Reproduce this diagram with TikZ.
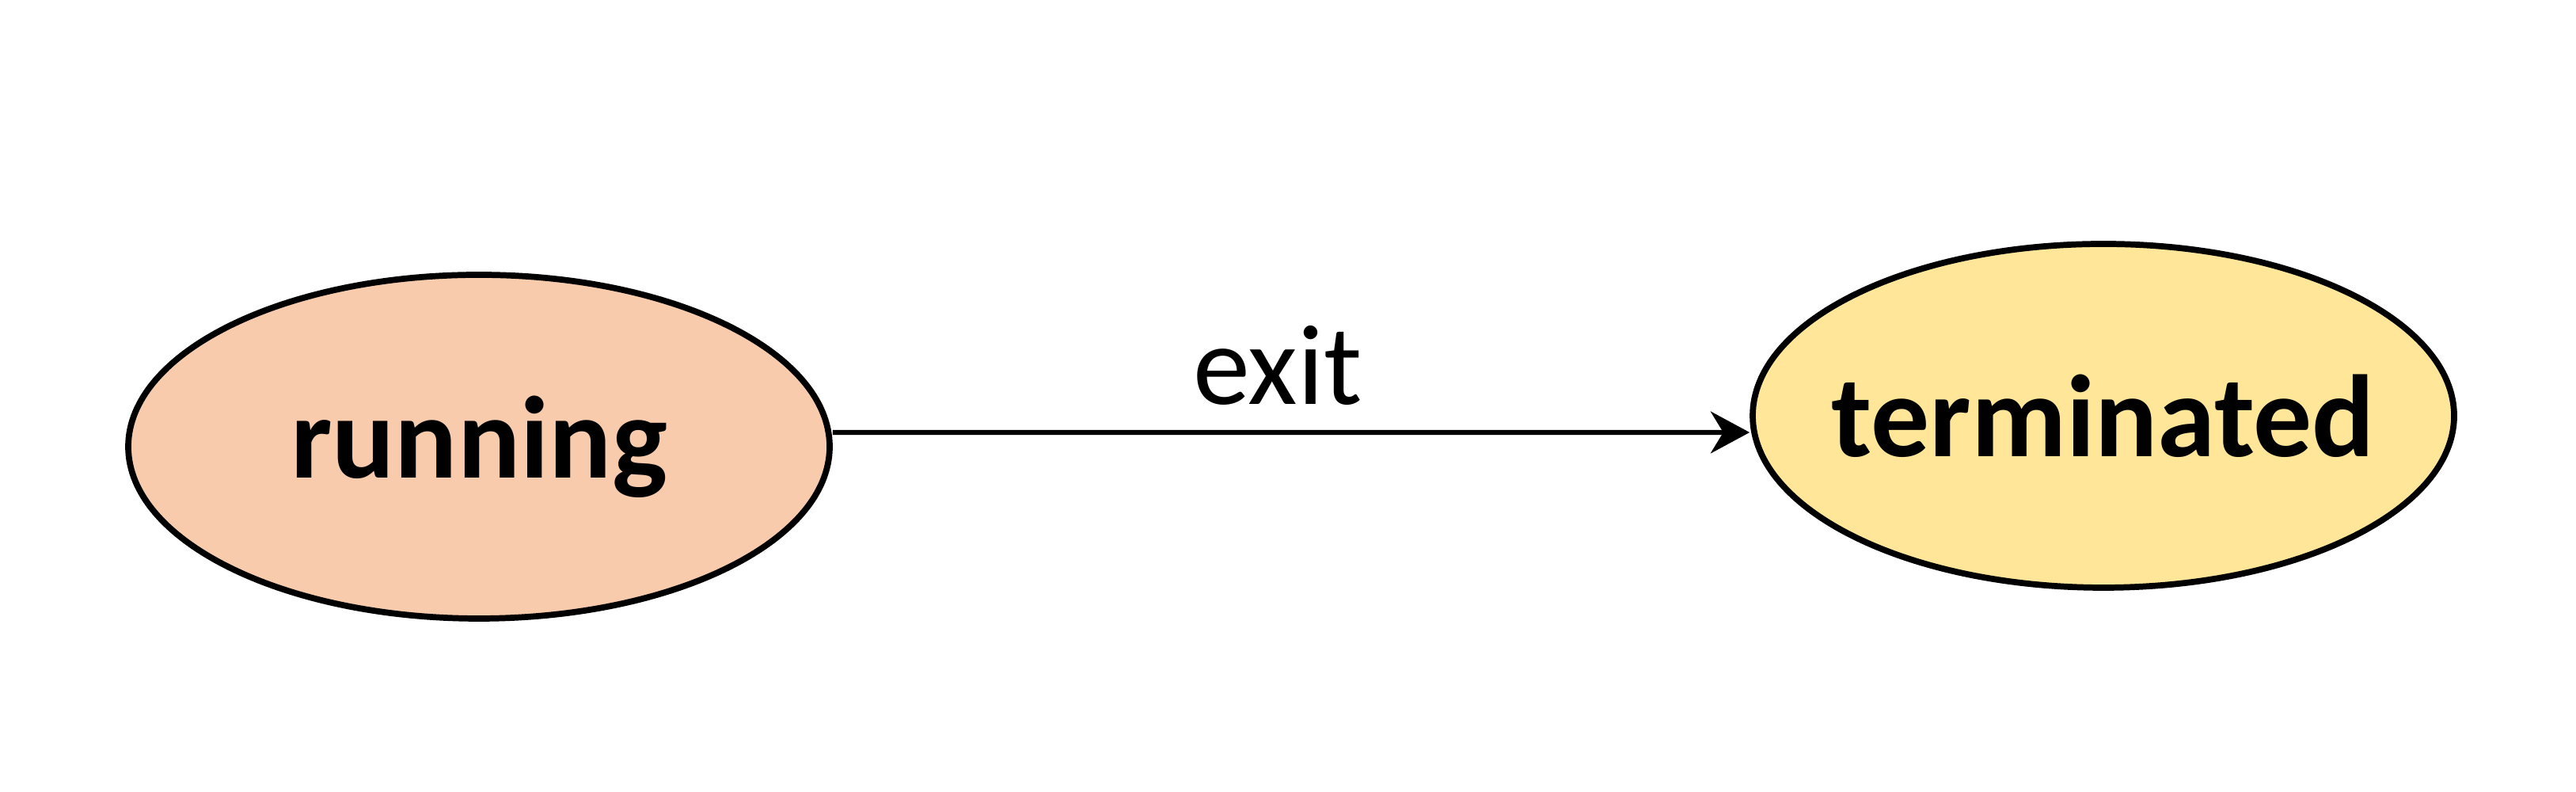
\documentclass[tikz,border=0pt]{standalone}
\usepackage{fontspec}
\setmainfont{Carlito}
\usepackage{xcolor}
\usepackage{tikz}
\usetikzlibrary{shapes,arrows.meta,positioning,calc}

\definecolor{runfill}{HTML}{F8CBAD}
\definecolor{termfill}{HTML}{FFE699}

\begin{document}
\begin{tikzpicture}[
    state/.style={ellipse, draw, line width=2.2pt, minimum width=8.86cm, minimum height=4.34cm, inner sep=0pt, font=\fontsize{42}{50}\selectfont\bfseries},
    arrow/.style={-{Stealth[length=14pt, width=15pt, inset=4.5pt]}, line width=1.8pt}
]
\useasboundingbox (0,0) rectangle (32.54,10);

% States
\node[state, fill=runfill] (running) at (6.05,4.36) {\makebox[0pt]{running}};
\node[state, fill=termfill] (terminated) at (26.57,4.75) {\makebox[0pt]{terminated}};

% Transition
\draw[arrow] ([yshift=0.18cm]running.east) -- node[above, inner sep=9pt, xshift=-0.17cm, font=\fontsize{41}{49}\selectfont] (exit) {exit} ([yshift=-0.21cm]terminated.west);
\end{tikzpicture}
\end{document}
